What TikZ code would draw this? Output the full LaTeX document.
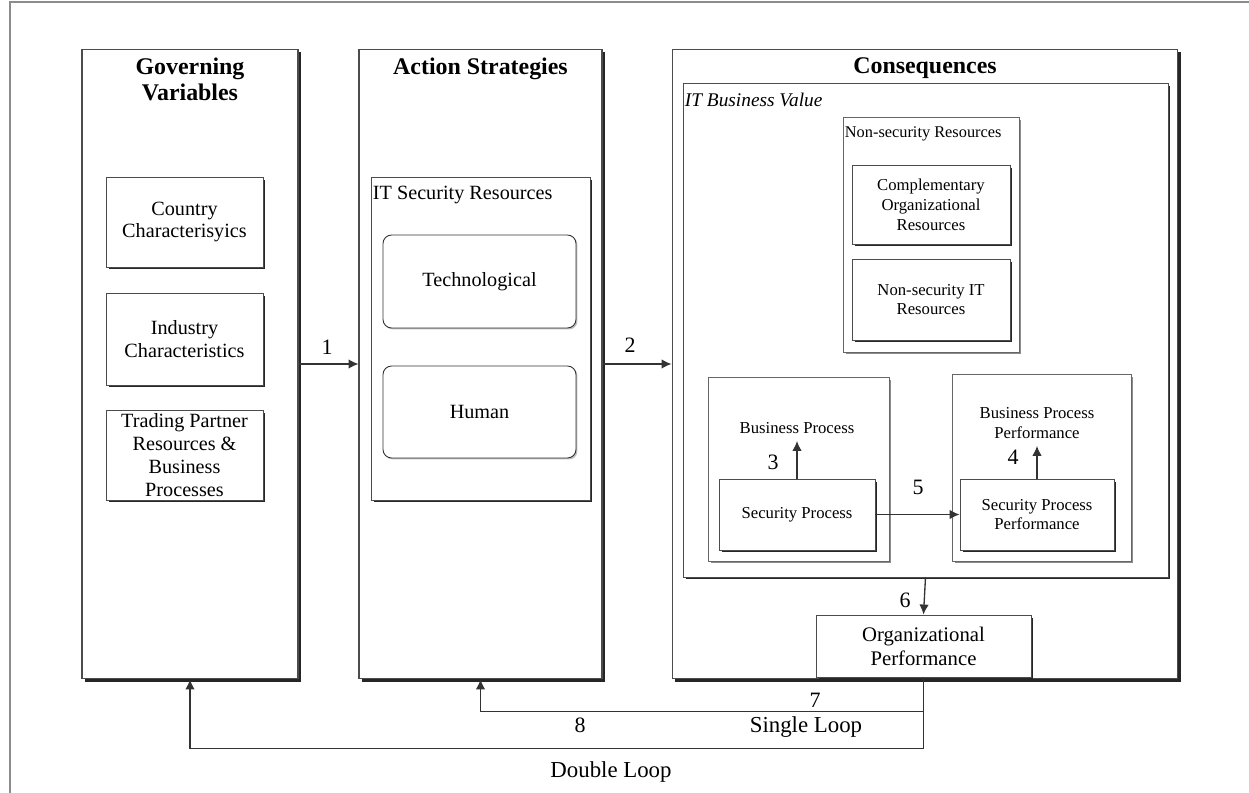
\documentclass[tikz,border=0pt]{standalone}
\usepackage{fontspec}
\setmainfont{Liberation Serif}
\usetikzlibrary{arrows.meta,calc,shadows}

\begin{document}
\begin{tikzpicture}[x=0.02cm,y=-0.02cm,
  bigbox/.style={draw=black!70,fill=white,line width=0.6pt,inner sep=0pt,
    drop shadow={shadow xshift=0.06cm,shadow yshift=-0.06cm,fill=black!85,opacity=1}},
  box/.style={draw=black!70,fill=white,line width=0.5pt,inner sep=0pt,align=center,
    font=\fontsize{11.5}{13}\selectfont,
    drop shadow={shadow xshift=0.05cm,shadow yshift=-0.05cm,fill=black!85,opacity=1}},
  sbox/.style={box,font=\fontsize{9.5}{11.3}\selectfont},
  gbox/.style={draw=black!60,fill=white,line width=0.5pt,inner sep=0pt,
    drop shadow={shadow xshift=0.05cm,shadow yshift=-0.05cm,fill=black!45,opacity=1}},
  rbox/.style={draw=black!80,fill=white,line width=0.5pt,inner sep=0pt,rounded corners=0.17cm,
    font=\fontsize{11.5}{13}\selectfont,
    drop shadow={shadow xshift=0.03cm,shadow yshift=-0.03cm,fill=black!25,opacity=1}},
  title/.style={inner sep=0pt,align=center,font=\fontsize{13.6}{14.7}\selectfont\bfseries},
  lbl/.style={inner sep=0pt,font=\fontsize{11.5}{13}\selectfont},
  stext/.style={inner xsep=2pt,inner ysep=4pt,align=center,font=\fontsize{9.5}{11.3}\selectfont},
  num/.style={inner sep=0pt,font=\fontsize{12.5}{14}\selectfont},
  looplbl/.style={inner sep=0pt,font=\fontsize{13}{15}\selectfont},
  arr/.style={draw=black!80,line width=0.75pt,-{Latex[length=2mm,width=1.9mm]}}]

\useasboundingbox (0,0) rectangle (1249,793);
\draw[black!45,line width=1pt] (10,793) -- (10,2) -- (1249,2);

\node[bigbox,minimum width=4.32cm,minimum height=12.6cm] (gov) at (190,364) {};
\node[bigbox,minimum width=4.86cm,minimum height=12.6cm] (act) at (480.5,364) {};
\node[bigbox,minimum width=10.12cm,minimum height=12.6cm] (con) at (925,364) {};

\node[title,anchor=north] (govtitle) at ($(gov.north)+(0,9)$) {Governing\\Variables};
\node[title,anchor=north] (acttitle) at ($(act.north)+(0,9)$) {Action Strategies};
\node[title,anchor=north] (contitle) at ($(con.north)+(0,9)$) {Consequences};

\node[box,minimum width=3.14cm,minimum height=1.8cm] (country) at (184.5,222) {Country\\Characterisyics};
\node[box,minimum width=3.14cm,minimum height=1.84cm] (industry) at (184.5,339) {Industry\\Characteristics};
\node[box,minimum width=3.14cm,minimum height=1.8cm] (trading) at (184.5,455) {Trading Partner\\Resources \&\\Business\\Processes};

\node[box,minimum width=4.38cm,minimum height=6.46cm] (itsr) at (480.5,338.5) {};
\node[lbl,anchor=north west] (itsrlbl) at ($(itsr.north west)+(2,9)$) {IT Security Resources};
\node[rbox,minimum width=3.86cm,minimum height=1.86cm] (tech) at (479.5,281.5) {Technological};
\node[rbox,minimum width=3.86cm,minimum height=1.84cm] (human) at (479.5,412) {Human};

\node[box,minimum width=9.7cm,minimum height=9.88cm] (val) at (925.5,330) {};
\node[lbl,font=\fontsize{11}{13}\selectfont\itshape,anchor=north west] (vallbl) at ($(val.north west)+(2,10)$) {IT Business Value};
\node[gbox,minimum width=3.52cm,minimum height=4.7cm] (nsr) at (931,234.5) {};
\node[lbl,font=\fontsize{9.3}{11}\selectfont,anchor=north west] (nsrlbl) at ($(nsr.north west)+(2,10)$) {Non-security Resources};
\node[sbox,minimum width=3.16cm,minimum height=1.58cm] (comp) at (931,204.5) {Complementary\\Organizational\\Resources};
\node[sbox,minimum width=3.16cm,minimum height=1.62cm] (nsit) at (931,299.5) {Non-security IT\\Resources};

\node[gbox,minimum width=3.62cm,minimum height=3.68cm] (bpbox) at (798.5,469) {};
\node[sbox,minimum width=3.12cm,minimum height=1.42cm] (sp) at (797,514.5) {Security Process};
\node[stext] (bp) at (797,428) {Business Process};
\node[gbox,minimum width=3.58cm,minimum height=3.74cm] (bppbox) at (1041.5,467.5) {};
\node[sbox,minimum width=3.08cm,minimum height=1.42cm] (spp) at (1037,514.5) {Security Process\\Performance};
\node[stext] (bpp) at (1037,423) {Business Process\\Performance};

\node[box,minimum width=4.3cm,minimum height=1.24cm,font=\fontsize{11.8}{13.6}\selectfont] (org) at (923.5,646) {Organizational\\Performance};

\draw[arr] (gov) -- (act);
\draw[arr] (act) -- (con);
\draw[arr] (sp) -- (bp);
\draw[arr] (spp) -- (bpp);
\draw[arr] (sp) -- (spp);
\draw[arr] (val.south) -- (org.north);
\draw[arr] (org.south) |- ($(act.south)+(0,32)$) -- (act.south);
\draw[arr] (org.south) |- ($(gov.south)+(0,69)$) -- (gov.south);

\node[num] (n1) at (327,347) {1};
\node[num] (n2) at (630,345) {2};
\node[num] (n3) at (773,462) {3};
\node[num] (n4) at (1013,457) {4};
\node[num] (n5) at (918,487) {5};
\node[num] (n6) at (905,600) {6};
\node[num] (n7) at (815,700) {7};
\node[num] (n8) at (580,725) {8};
\node[looplbl] (single) at (806,727.5) {Single Loop};
\node[looplbl] (double) at (611,772.5) {Double Loop};

\end{tikzpicture}
\end{document}
